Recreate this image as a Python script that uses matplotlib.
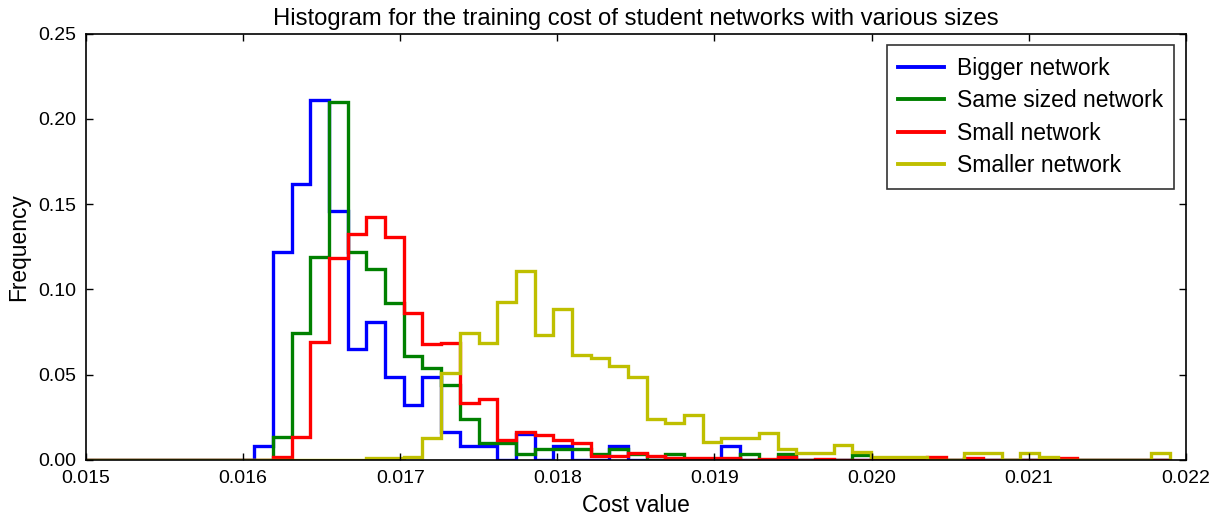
import numpy as np
import matplotlib
matplotlib.use("Agg")
import matplotlib.pyplot as plt

# ---- data -------------------------------------------------------------
bin_range = (0.015, 0.0219)
n_bins = 58

labels = ["Bigger network", "Same sized network", "Small network", "Smaller network"]
colors = ["b", "g", "r", "y"]

# frequency per bin (bin index k -> value); unlisted bins are 0
bigger = {9: 0.0081, 10: 0.122, 11: 0.162, 12: 0.211, 13: 0.146, 14: 0.065,
          15: 0.081, 16: 0.0487, 17: 0.0325, 18: 0.0487, 19: 0.0162, 20: 0.0081,
          21: 0.0081, 23: 0.0155, 25: 0.0081, 28: 0.0081, 34: 0.0081}
same_sized = {10: 0.0133, 11: 0.0745, 12: 0.119, 13: 0.210, 14: 0.122, 15: 0.112,
              16: 0.092, 17: 0.061, 18: 0.054, 19: 0.044, 20: 0.024, 21: 0.010,
              22: 0.010, 23: 0.0033, 24: 0.0066, 25: 0.0066, 26: 0.0066,
              27: 0.0033, 28: 0.0066, 29: 0.0033, 31: 0.0033, 35: 0.0033,
              37: 0.0033, 41: 0.0030}
small = {10: 0.0016, 11: 0.0133, 12: 0.0694, 13: 0.1183, 14: 0.1325, 15: 0.1427,
         16: 0.131, 17: 0.0864, 18: 0.0678, 19: 0.0684, 20: 0.0336, 21: 0.0356,
         22: 0.0117, 23: 0.0166, 24: 0.0145, 25: 0.0117, 26: 0.0098, 27: 0.0025,
         28: 0.0025, 29: 0.0039, 30: 0.0025, 31: 0.0012, 32: 0.0014, 33: 0.0014,
         34: 0.0014, 36: 0.0008, 37: 0.0016, 39: 0.0008, 45: 0.0016, 47: 0.0010,
         52: 0.0010}
smaller = {15: 0.0013, 16: 0.0013, 17: 0.0016, 18: 0.0131, 19: 0.0508, 20: 0.0747,
           21: 0.0688, 22: 0.0928, 23: 0.1108, 24: 0.0733, 25: 0.0884, 26: 0.0616,
           27: 0.0596, 28: 0.0551, 29: 0.0485, 30: 0.0239, 31: 0.0219, 32: 0.0264,
           33: 0.0107, 34: 0.0131, 35: 0.0131, 36: 0.0156, 37: 0.0063, 38: 0.0043,
           39: 0.0043, 40: 0.0088, 41: 0.0045, 42: 0.0020, 43: 0.0020, 44: 0.0020,
           47: 0.0043, 48: 0.0043, 50: 0.0043, 51: 0.0020, 57: 0.0043}

series = [bigger, same_sized, small, smaller]

xticks = [0.015, 0.016, 0.017, 0.018, 0.019, 0.020, 0.021, 0.022]
yticks = [0.00, 0.05, 0.10, 0.15, 0.20, 0.25]

# ---- style ------------------------------------------------------------
plt.rcParams["font.family"] = ["Liberation Sans", "DejaVu Sans"]
plt.rcParams["xtick.direction"] = "in"
plt.rcParams["ytick.direction"] = "in"
plt.rcParams["xtick.top"] = True
plt.rcParams["ytick.right"] = True

fig = plt.figure(figsize=(12.24, 5.19), dpi=100)
ax = fig.add_axes([0.0703, 0.1137, 0.8984, 0.8214])

edges = np.linspace(bin_range[0], bin_range[1], n_bins + 1)
for data, lab, col in zip(series, labels, colors):
    vals = np.zeros(n_bins)
    for k, v in data.items():
        vals[k] = v
    ax.stairs(vals, edges, color=col, linewidth=2.4, label=lab, fill=False)

ax.set_xlim(0.015, 0.022)
ax.set_ylim(0, 0.25)
ax.set_xticks(xticks)
ax.set_xticklabels([f"{t:.3f}" for t in xticks])
ax.set_yticks(yticks)
ax.set_yticklabels([f"{t:.2f}" for t in yticks])
ax.tick_params(labelsize=14, length=5, width=1)
ax.tick_params(axis="x", pad=7)
ax.tick_params(axis="y", pad=7)
for s in ax.spines.values():
    s.set_linewidth(1.2)

ax.set_title("Histogram for the training cost of student networks with various sizes",
             fontsize=17.2, pad=6)
ax.set_xlabel("Cost value", fontsize=16.4, labelpad=5)
ax.set_ylabel("Frequency", fontsize=16.4, labelpad=6)

leg = ax.legend(loc="upper right", fontsize=16.5, fancybox=False, frameon=True,
                handlelength=2.0, handletextpad=0.55, borderpad=0.5,
                labelspacing=0.42, borderaxespad=0.5)
leg.get_frame().set_edgecolor("black")
leg.get_frame().set_linewidth(1.2)
for l in leg.get_lines():
    l.set_linewidth(2.8)

fig.savefig("out.png", dpi=100, facecolor="white")
